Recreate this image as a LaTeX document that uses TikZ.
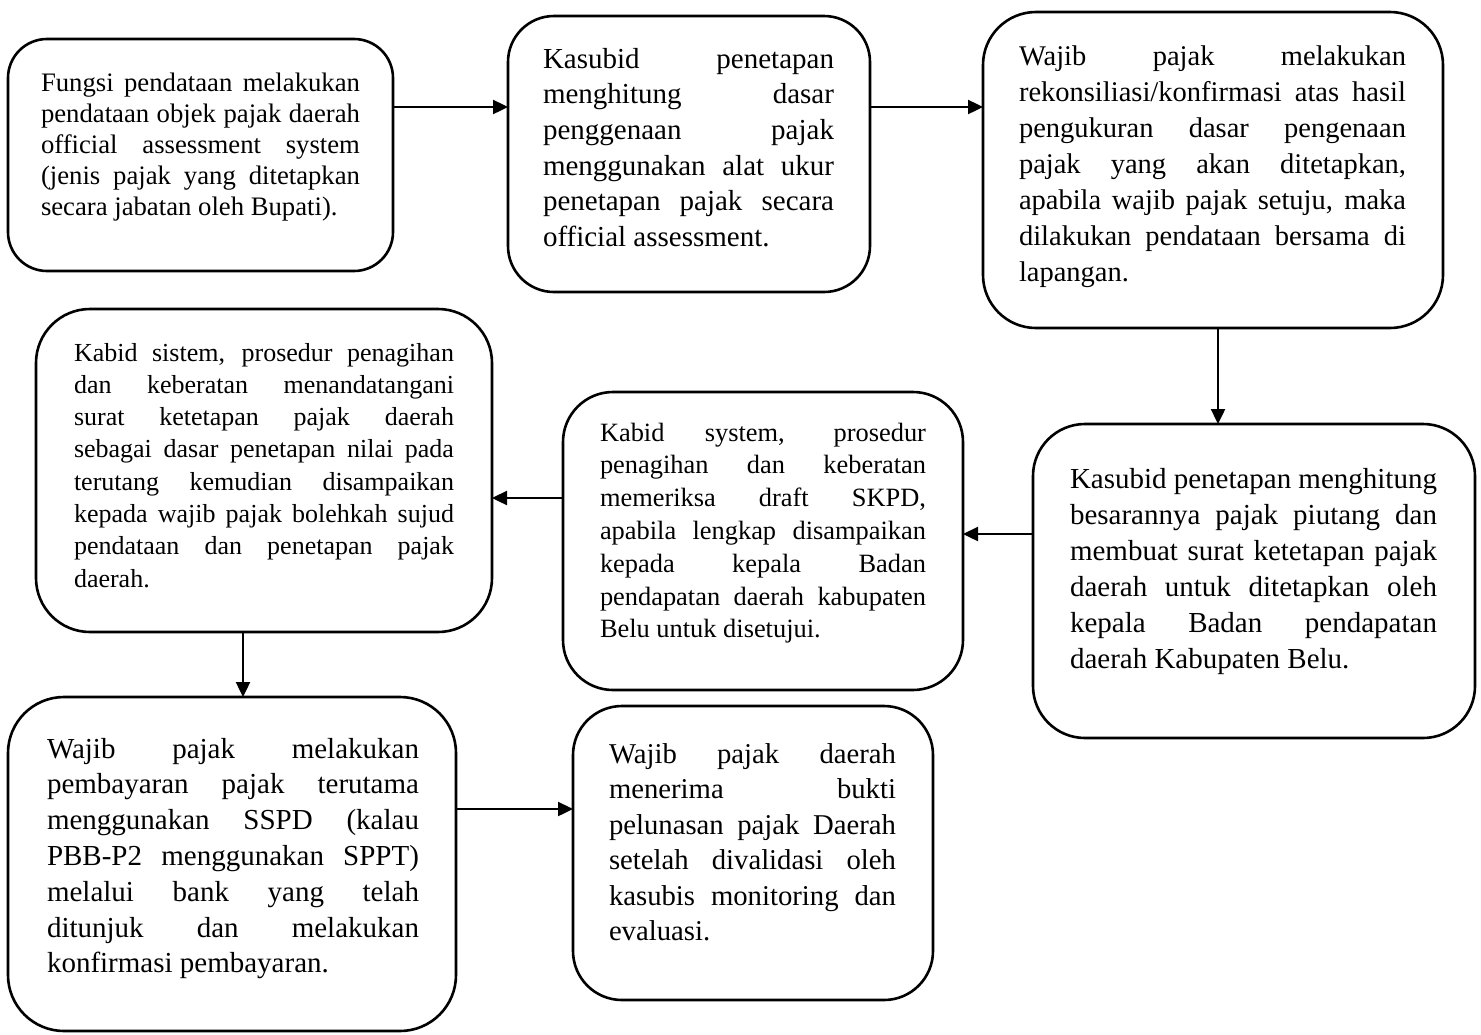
\documentclass[tikz,border=0pt]{standalone}
\usepackage{fontspec}
\setmainfont{Liberation Serif}[Ligatures={TeX,NoCommon}]
\usetikzlibrary{arrows.meta}
\hbadness=10000
\hfuzz=6pt

% one justified line, and the closing line of a paragraph
\newcommand\jline[1]{\hbox to \hsize{#1}}
\newcommand\lline[1]{\hbox to \hsize{#1\hfil}}
% text block: width, font size, baseline skip, lines
\newcommand\txtblock[4]{\vtop{\hsize=#1pt\fontsize{#2}{#3}\selectfont\baselineskip=#3pt #4}}

\tikzset{
  box/.style={draw, line width=2.6pt, rectangle, inner sep=0pt, outer sep=0pt, anchor=north west},
  txt/.style={inner sep=0pt, outer sep=0pt, anchor=base west},
  arr/.style={line width=2.4pt, -{Triangle[length=15pt,width=14pt]}}
}

\begin{document}
\begin{tikzpicture}[x=1pt, y=-1pt]
\useasboundingbox[fill=white] (0,0) rectangle (1481,1034);

% boxes
\node[box, minimum width=385pt, minimum height=232pt, rounded corners=39pt] (A) at (8,39) {};
\node[box, minimum width=362pt, minimum height=276pt, rounded corners=46pt] (B) at (508,16) {};
\node[box, minimum width=460pt, minimum height=316pt, rounded corners=53pt] (C) at (983,12) {};
\node[box, minimum width=456pt, minimum height=323pt, rounded corners=54pt] (D) at (36,309) {};
\node[box, minimum width=400pt, minimum height=298pt, rounded corners=50pt] (E) at (563,392) {};
\node[box, minimum width=442pt, minimum height=314pt, rounded corners=52pt] (F) at (1033,424) {};
\node[box, minimum width=448pt, minimum height=334pt, rounded corners=56pt] (G) at (8,697) {};
\node[box, minimum width=360pt, minimum height=294pt, rounded corners=49pt] (H) at (573,706) {};

% texts
\node[txt] (tA) at (41,91) {\txtblock{319}{26.7}{31.1}{%
  \jline{Fungsi pendataan melakukan}
  \jline{pendataan objek pajak daerah}
  \jline{official assessment system}
  \jline{(jenis pajak yang ditetapkan}
  \lline{secara jabatan oleh Bupati).}}};

\node[txt] (tB) at (543,68) {\txtblock{291}{29}{35.7}{%
  \jline{Kasubid penetapan}
  \jline{menghitung dasar}
  \jline{penggenaan pajak}
  \jline{menggunakan alat ukur}
  \jline{penetapan pajak secara}
  \lline{official assessment.}}};

\node[txt] (tC) at (1019,65) {\txtblock{387}{28.5}{36}{%
  \jline{Wajib pajak melakukan}
  \jline{rekonsiliasi/konfirmasi atas hasil}
  \jline{pengukuran dasar pengenaan}
  \jline{pajak yang akan ditetapkan,}
  \jline{apabila wajib pajak setuju, maka}
  \jline{dilakukan pendataan bersama di}
  \lline{lapangan.}}};

\node[txt] (tD) at (74,361) {\txtblock{380}{26}{32.3}{%
  \jline{Kabid sistem, prosedur penagihan}
  \jline{dan keberatan menandatangani}
  \jline{surat ketetapan pajak daerah}
  \jline{sebagai dasar penetapan nilai pada}
  \jline{terutang kemudian disampaikan}
  \jline{kepada wajib pajak bolehkah sujud}
  \jline{pendataan dan penetapan pajak}
  \lline{daerah.}}};

\node[txt] (tE) at (600,441) {\txtblock{326}{26.4}{32.8}{%
  \jline{Kabid system, prosedur}
  \jline{penagihan dan keberatan}
  \jline{memeriksa draft SKPD,}
  \jline{apabila lengkap disampaikan}
  \jline{kepada kepala Badan}
  \jline{pendapatan daerah kabupaten}
  \lline{Belu untuk disetujui.}}};

\node[txt] (tF) at (1070,488) {\txtblock{367}{29}{36}{%
  \jline{Kasubid penetapan menghitung}
  \jline{besarannya pajak piutang dan}
  \jline{membuat surat ketetapan pajak}
  \jline{daerah untuk ditetapkan oleh}
  \jline{kepala Badan pendapatan}
  \lline{daerah Kabupaten Belu.}}};

\node[txt] (tG) at (47,758) {\txtblock{372}{29}{35.8}{%
  \jline{Wajib pajak melakukan}
  \jline{pembayaran pajak terutama}
  \jline{menggunakan SSPD (kalau}
  \jline{PBB-P2 menggunakan SPPT)}
  \jline{melalui bank yang telah}
  \jline{ditunjuk dan melakukan}
  \lline{konfirmasi pembayaran.}}};

\node[txt] (tH) at (609,763) {\txtblock{287}{28.7}{35.5}{%
  \jline{Wajib pajak daerah}
  \jline{menerima bukti}
  \jline{pelunasan pajak Daerah}
  \jline{setelah divalidasi oleh}
  \jline{kasubis monitoring dan}
  \lline{evaluasi.}}};

% connectors
\draw[arr] (A.east |- 0,107) -- (B.west |- 0,107);
\draw[arr] (B.east |- 0,107) -- (C.west |- 0,107);
\draw[arr] (C.south -| 1218,0) -- (F.north -| 1218,0);
\draw[arr] (F.west |- 0,534) -- (E.east |- 0,534);
\draw[arr] (E.west |- 0,498) -- (D.east |- 0,498);
\draw[arr] (D.south -| 243,0) -- (G.north -| 243,0);
\draw[arr] (G.east |- 0,809) -- (H.west |- 0,809);
\end{tikzpicture}
\end{document}
